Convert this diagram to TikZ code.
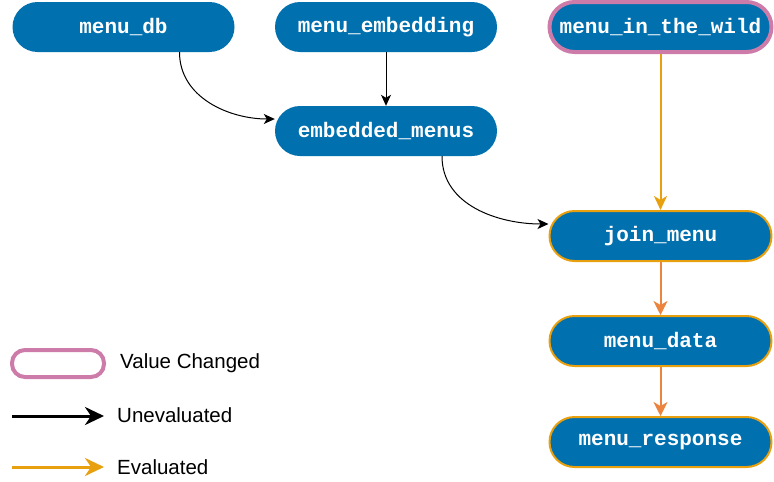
\documentclass[tikz,border=0pt]{standalone}
\usepackage{fontspec}
\setmainfont{Liberation Sans}
\setmonofont{Liberation Mono}
\usetikzlibrary{arrows.meta}

\definecolor{dagBlue}{RGB}{0,112,175}
\definecolor{dagPink}{RGB}{205,123,168}
\definecolor{dagAmber}{RGB}{232,160,14}
\definecolor{dagOrange}{RGB}{234,132,62}

\begin{document}
\begin{tikzpicture}[x=1pt, y=-1pt,
  fnnode/.style={fill=dagBlue, text=white, rounded corners=25pt,
    minimum width=222pt, minimum height=50pt, inner sep=0pt,
    font=\fontsize{21}{24}\selectfont\ttfamily\bfseries},
  changed/.style={draw=dagPink, line width=4pt},
  evalnode/.style={draw=dagAmber, line width=2pt},
  unevalarrow/.style={black, line width=1pt, -{Stealth[length=11pt,width=10pt,inset=3pt]}},
  evalarrow/.style={dagAmber, line width=2pt, -{Stealth[length=14pt,width=13pt,inset=4pt]}},
  downarrow/.style={dagOrange, line width=2pt, -{Stealth[length=14pt,width=14pt,inset=4pt]}},
  legtext/.style={anchor=west, inner sep=0pt, font=\fontsize{20.5}{24}\selectfont}]
\useasboundingbox (0,0) rectangle (774,482);
%% Upstream functions
\node[fnnode] (db) at (123.5,27) {menu\_db};
\node[fnnode] (embedding) at (386,27) {menu\_embedding};
\node[fnnode, changed] (wild) at (660.5,27) {menu\_in\_the\_wild};
\node[fnnode] (embedded) at (386,131) {embedded\_menus};
%% Downstream chain
\node[fnnode, evalnode] (join) at (660.5,236) {join\_menu};
\node[fnnode, evalnode] (data) at (660.5,341) {menu\_data};
\node[fnnode, evalnode] (response) at (660.5,442) {menu\_response};
%% Edges
\draw[unevalarrow] ([xshift=56pt]db.south) to[out=-90, in=180] ([yshift=12pt]embedded.west);
\draw[unevalarrow] (embedding) -- (embedded);
\draw[unevalarrow] ([xshift=56pt]embedded.south) to[out=-90, in=180] ([yshift=12pt]join.west);
\draw[evalarrow] (wild) -- (join);
\draw[downarrow] (join) -- (data);
\draw[downarrow] (data) -- (response);
%% Legend
\node[draw=dagPink, line width=4pt, rounded corners=13pt, minimum width=92pt,
  minimum height=27pt, inner sep=0pt] (legChanged) at (58,363.5) {};
\node[legtext] (legChangedText) at (120,363) {Value Changed};
\coordinate (legUnevalA) at (12,416);
\coordinate (legUnevalB) at (104,416);
\draw[black, line width=3pt, -{Stealth[length=19pt,width=18pt,inset=6pt]}] (legUnevalA) -- (legUnevalB);
\node[legtext] (legUnevalText) at (117,415) {Unevaluated};
\coordinate (legEvalA) at (12,467);
\coordinate (legEvalB) at (104,467);
\draw[dagAmber, line width=3pt, -{Stealth[length=19pt,width=18pt,inset=6pt]}] (legEvalA) -- (legEvalB);
\node[legtext] (legEvalText) at (117,467) {Evaluated};
\end{tikzpicture}
\end{document}
